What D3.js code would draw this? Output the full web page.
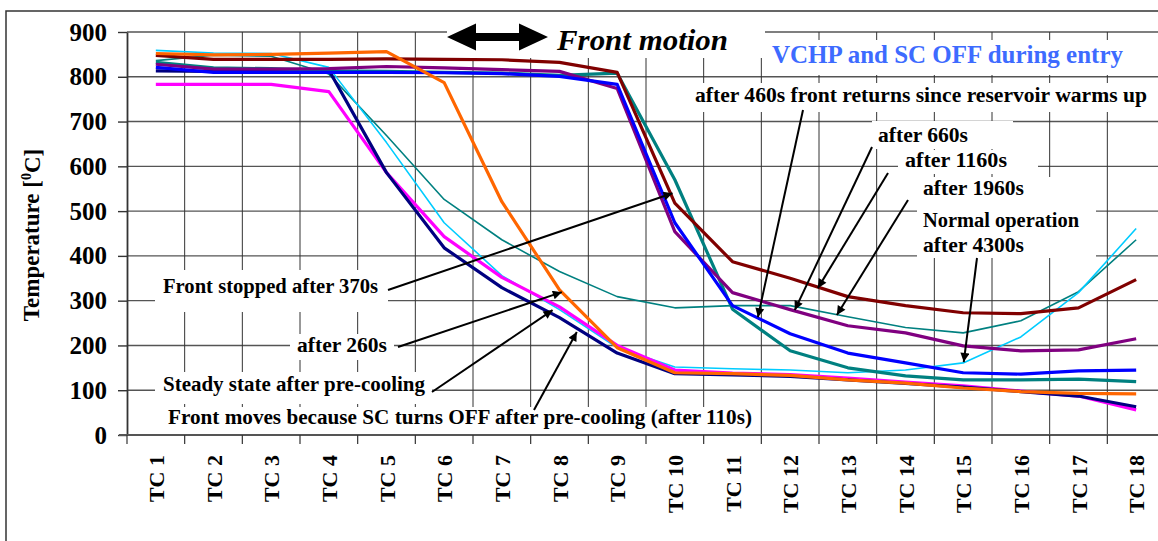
<!DOCTYPE html>
<html>
<head>
<meta charset="utf-8">
<script src="https://cdn.jsdelivr.net/npm/d3@7"></script>
<style>
body{margin:0;background:#fff;}
svg{display:block;font-family:"Liberation Serif","Times New Roman",serif;font-weight:bold;}
</style>
</head>
<body>
<div id="chart"></div>
<script>
// data
var categories = ['TC 1','TC 2','TC 3','TC 4','TC 5','TC 6','TC 7','TC 8','TC 9',
                  'TC 10','TC 11','TC 12','TC 13','TC 14','TC 15','TC 16','TC 17','TC 18'];
var yTicks = [0,100,200,300,400,500,600,700,800,900];

var tealThin  = [836,848,846,806,669,526,436,365,309,284,289,289,264,240,228,255,320,436];
var cyan      = [859,853,852,821,653,474,356,280,195,152,148,145,139,145,161,219,318,461];
var magenta   = [783,783,783,767,586,443,352,286,200,145,138,135,127,118,110,98,87,56];
var navy      = [813,812,812,815,586,418,329,262,183,137,134,131,123,115,107,97,87,63];
var tealThick = [832,820,818,813,812,810,808,803,808,570,281,188,150,132,123,123,125,119];
var purple    = [828,817,817,818,823,820,816,812,774,454,318,280,244,228,199,188,190,215];
var blue      = [821,810,810,810,810,809,807,801,783,474,289,226,183,161,139,136,143,145];
var darkRed   = [848,839,839,839,840,839,838,832,810,518,387,350,309,289,273,271,284,347];
var orange    = [852,849,850,853,856,787,521,324,195,139,137,133,123,116,105,97,93,92];

var series = [
  {values: tealThin,  color: '#008080', w: 1.6},
  {values: cyan,      color: '#00ccff', w: 1.6},
  {values: magenta,   color: '#ff00ff', w: 3.2},
  {values: navy,      color: '#000080', w: 3.2},
  {values: tealThick, color: '#008080', w: 3.2},
  {values: purple,    color: '#800080', w: 3.2},
  {values: blue,      color: '#0000ff', w: 3.2},
  {values: darkRed,   color: '#800000', w: 3.2},
  {values: orange,    color: '#ff6600', w: 3.2}
];

var width = 1158, height = 541;
var pLeft = 127, pRight = 1165, pTop = 32, pBottom = 435;

var svg = d3.select('#chart').append('svg')
  .attr('width', width)
  .attr('height', height);

var x = d3.scalePoint().domain(categories).range([pLeft, pRight]).padding(0.5);
var xi = d3.scaleLinear().domain([0, categories.length-1])
  .range([x(categories[0]), x(categories[categories.length-1])]);
var y = d3.scaleLinear().domain([0, 900]).range([pBottom, pTop]);

svg.append('defs').append('marker')
  .attr('id','ah')
  .attr('viewBox','0 0 10 10')
  .attr('refX',10).attr('refY',5)
  .attr('markerWidth',12).attr('markerHeight',9)
  .attr('markerUnits','userSpaceOnUse')
  .attr('orient','auto')
  .append('path').attr('d','M0,0L10,5L0,10z').attr('fill','#000');

// outer frame
svg.append('rect')
  .attr('x',6).attr('y',11).attr('width',1200).attr('height',600)
  .attr('fill','none').attr('stroke','#333').attr('stroke-width',1.5);

// grid
svg.selectAll('.hgrid').data(yTicks.filter(function(v){ return v>0; }))
  .enter().append('line')
  .attr('class','hgrid')
  .attr('x1',pLeft).attr('x2',width)
  .attr('y1',function(d){ return y(d); })
  .attr('y2',function(d){ return y(d); })
  .attr('stroke','#555').attr('stroke-width',1.4);

var bounds = categories.slice(1).map(function(c){ return x(c) - x.step()/2; });
svg.selectAll('.vgrid').data(bounds)
  .enter().append('line')
  .attr('class','vgrid')
  .attr('x1',function(d){ return d; })
  .attr('x2',function(d){ return d; })
  .attr('y1',pTop).attr('y2',pBottom)
  .attr('stroke','#333').attr('stroke-width',1);

// white label boxes that hide the grid
var boxes = [
  [447,22,318,36],[766,40,392,35],[690,83,464,29],[872,121,141,28],
  [898,150,140,24],[917,177,179,81],[155,270,233,42],[290,334,104,26],
  [155,372,277,32],[155,407,605,27]
];
svg.selectAll('.box').data(boxes)
  .enter().append('rect')
  .attr('class','box')
  .attr('x',function(d){ return d[0]; })
  .attr('y',function(d){ return d[1]; })
  .attr('width',function(d){ return d[2]; })
  .attr('height',function(d){ return d[3]; })
  .attr('fill','#fff');

// axes
var yAxis = svg.append('g')
  .attr('transform','translate('+pLeft+',0)')
  .call(d3.axisLeft(y).tickValues(yTicks).tickSizeInner(9).tickSizeOuter(0).tickPadding(11));
yAxis.select('.domain').attr('stroke','#333').attr('stroke-width',1.8);
yAxis.selectAll('.tick line').attr('stroke','#333').attr('stroke-width',1.4);
yAxis.selectAll('.tick text')
  .attr('font-family','"Liberation Serif","Times New Roman",serif')
  .attr('font-weight','bold').attr('font-size',25).attr('fill','#000');

var xAxis = svg.append('g')
  .attr('transform','translate(0,'+pBottom+')')
  .call(d3.axisBottom(x).tickSize(0).tickSizeOuter(0));
xAxis.select('.domain').attr('stroke','#555').attr('stroke-width',1.8)
  .attr('d','M'+(pLeft-8)+',0H'+width);
xAxis.selectAll('.tick text')
  .attr('font-family','"Liberation Serif","Times New Roman",serif')
  .attr('font-weight','bold').attr('font-size',22).attr('fill','#000')
  .attr('transform','rotate(-90)')
  .attr('x',-20).attr('y',0).attr('dy','0.35em')
  .style('text-anchor','end');

svg.selectAll('.xtick').data([pLeft].concat(bounds))
  .enter().append('line')
  .attr('class','xtick')
  .attr('x1',function(d){ return d; })
  .attr('x2',function(d){ return d; })
  .attr('y1',pBottom).attr('y2',pBottom+9)
  .attr('stroke','#333').attr('stroke-width',1.2);

var title = svg.append('text')
  .attr('transform','translate(39,235) rotate(-90)')
  .attr('text-anchor','middle')
  .attr('font-size',23);
title.append('tspan').text('Temperature [');
title.append('tspan').attr('font-size',14).attr('dy','-0.6em').text('0');
title.append('tspan').attr('dy','0.4em').text('C]');

// data lines
var line = d3.line()
  .x(function(d,i){ return x(categories[i]); })
  .y(function(d){ return y(d); });

svg.selectAll('.series').data(series)
  .enter().append('path')
  .attr('class','series')
  .attr('d',function(d){ return line(d.values); })
  .attr('fill','none')
  .attr('stroke',function(d){ return d.color; })
  .attr('stroke-width',function(d){ return d.w; })
  .attr('stroke-linejoin','round');

// annotations
var labels = [
  {t:'after 460s front returns since reservoir warms up', x:695, y:102, len:452},
  {t:'after 660s', x:878, y:142, len:90},
  {t:'after 1160s', x:905, y:167, len:102},
  {t:'after 1960s', x:923, y:195, len:101},
  {t:'Normal operation', x:923, y:227, len:156},
  {t:'after 4300s', x:923, y:252, len:101},
  {t:'Front stopped after 370s', x:163, y:293, len:215},
  {t:'after 260s', x:297, y:352, len:90},
  {t:'Steady state after pre-cooling', x:163, y:391, len:262},
  {t:'Front moves because SC turns OFF after pre-cooling (after 110s)', x:168, y:424, len:584}
];
svg.selectAll('.lbl').data(labels)
  .enter().append('text')
  .attr('class','lbl')
  .attr('x',function(d){ return d.x; })
  .attr('y',function(d){ return d.y; })
  .attr('font-size',20)
  .attr('textLength',function(d){ return d.len; })
  .attr('lengthAdjust','spacingAndGlyphs')
  .text(function(d){ return d.t; });

// arrows: tail in pixels, head at [category index, value]
var arrows = [
  [388,290, 8.96,540],
  [398,347, 7.04,319],
  [432,392, 6.88,279],
  [534,410, 7.30,230],
  [803,110, 10.44,263],
  [872,147, 11.08,279],
  [888,173, 11.48,328],
  [908,200, 11.81,268],
  [977,258, 14.01,163]
];
svg.selectAll('.arrow').data(arrows)
  .enter().append('line')
  .attr('class','arrow')
  .attr('x1',function(d){ return d[0]; })
  .attr('y1',function(d){ return d[1]; })
  .attr('x2',function(d){ return xi(d[2]); })
  .attr('y2',function(d){ return y(d[3]); })
  .attr('stroke','#000').attr('stroke-width',2)
  .attr('marker-end','url(#ah)');

// front motion double arrow
svg.append('path')
  .attr('d','M447,37L476,23.5V33H519V23.5L548,37L519,50.5V41H476V50.5Z')
  .attr('fill','#000');

svg.append('text')
  .attr('x',557).attr('y',50)
  .attr('font-size',30).attr('font-style','italic')
  .attr('textLength',171).attr('lengthAdjust','spacingAndGlyphs')
  .text('Front motion');

svg.append('text')
  .attr('x',772).attr('y',63)
  .attr('font-size',25).attr('fill','#3d6bff')
  .attr('textLength',351).attr('lengthAdjust','spacingAndGlyphs')
  .text('VCHP and SC OFF during entry');
</script>
</body>
</html>
